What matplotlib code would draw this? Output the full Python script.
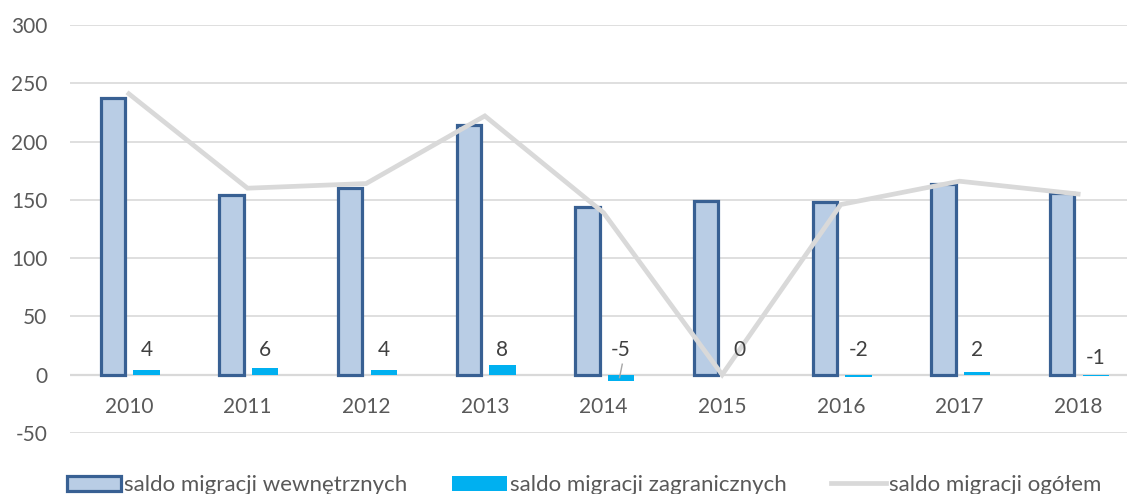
import matplotlib
matplotlib.use("Agg")
import matplotlib.pyplot as plt
import numpy as np
from matplotlib.patches import Patch
from matplotlib.lines import Line2D

plt.rcParams['font.family'] = ['Lato', 'DejaVu Sans']

years = ['2010', '2011', '2012', '2013', '2014', '2015', '2016', '2017', '2018']
wewnetrzne = [237, 154, 160, 214, 144, 149, 148, 164, 156]
zagraniczne = [4, 6, 4, 8, -5, 0, -2, 2, -1]
ogolem = [241, 160, 164, 222, 139, 0, 146, 166, 155]

labels_legend = ['saldo migracji wewnętrznych', 'saldo migracji zagranicznych', 'saldo migracji ogółem']
yticks = [-50, 0, 50, 100, 150, 200, 250, 300]

W, H = 1127, 494
fig = plt.figure(figsize=(W / 100, H / 100), dpi=100)
left = 69.5 / W
right = 1137.5 / W
ax = fig.add_axes([left, (H - 433) / H, right - left, (433 - 25) / H])

x = np.arange(len(years))
txt_col = '#595959'
grid_col = '#D9D9D9'

ax.bar(x - 0.135, wewnetrzne, width=0.205, color='#B9CDE5', edgecolor='#386093',
       linewidth=2.3, zorder=3)
ax.bar(x + 0.148, zagraniczne, width=0.222, color='#00B0F0', linewidth=0, zorder=3)
ax.plot(x, ogolem, color=grid_col, linewidth=3.4, zorder=4, solid_joinstyle='miter')

ax.set_xlim(-0.5, len(years) - 0.5)
ax.set_ylim(-50, 300)
ax.set_yticks(yticks)
ax.set_yticklabels([str(t) for t in yticks])
ax.tick_params(axis='y', length=0, pad=16, labelsize=15, labelcolor=txt_col)
ax.set_xticks([])
ax.grid(axis='y', color=grid_col, linewidth=1.2, zorder=0)
ax.axhline(0, color=grid_col, linewidth=1.6, zorder=2)
for s in ax.spines.values():
    s.set_visible(False)

for i, yr in enumerate(years):
    ax.text(x[i], -28, yr, ha='center', va='center', fontsize=15, color=txt_col)

for i, v in enumerate(zagraniczne):
    dy = 14 if v == -1 else 21
    ax.text(x[i] + 0.148, dy, str(v), ha='center', va='center', fontsize=15,
            color='#404040', zorder=5)
    if v <= -5:
        ax.plot([x[i] + 0.158, x[i] + 0.135], [9, -2.5], color='#A6A6A6',
                linewidth=1, zorder=5)

handles = [
    Patch(facecolor='#B9CDE5', edgecolor='#386093', linewidth=2.3),
    Patch(facecolor='#00B0F0', edgecolor='none'),
    Line2D([0], [0], color=grid_col, linewidth=3.4),
]
fig.legend(handles, labels_legend, loc='center', bbox_to_anchor=(584 / W, 1 - 485 / H),
           ncol=3, frameon=False, fontsize=16.0, handlelength=2.45, handleheight=0.65,
           handletextpad=0.15, columnspacing=2.0, labelcolor=txt_col,
           borderpad=0, borderaxespad=0)

fig.savefig('out.png', dpi=100)
